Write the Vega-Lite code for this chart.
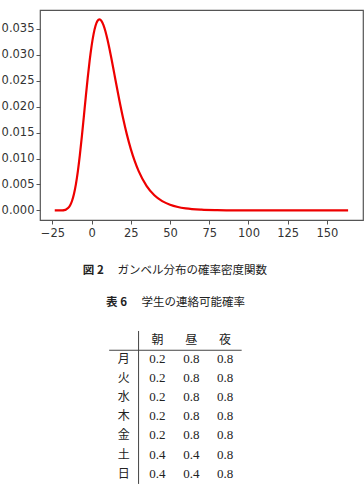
{
  "$schema": "https://vega.github.io/schema/vega-lite/v6.json",
  "padding": {"top": 9, "left": 0, "right": 0, "bottom": 0},
  "spacing": 0,
  "config": {"view": {"stroke": null}, "font": "DejaVu Sans"},
  "vconcat": [
    {
      "width": 323,
      "height": 210,
      "view": {"stroke": "#555", "strokeWidth": 1.2},
      "data": {"values": [
        {"x": -23.5, "y": 0.0}, {"x": -22.5, "y": 0.0000003}, {"x": -20, "y": 0.0000063},
        {"x": -18.75, "y": 0.000023}, {"x": -17.5, "y": 0.000072}, {"x": -16.25, "y": 0.000193},
        {"x": -15, "y": 0.000457}, {"x": -13.75, "y": 0.00096}, {"x": -12.5, "y": 0.001822},
        {"x": -11.25, "y": 0.00316}, {"x": -10, "y": 0.00507}, {"x": -8.75, "y": 0.00758},
        {"x": -7.5, "y": 0.01064}, {"x": -6.25, "y": 0.01415}, {"x": -5, "y": 0.01794},
        {"x": -3.75, "y": 0.02179}, {"x": -2.5, "y": 0.02549}, {"x": -1.25, "y": 0.02885},
        {"x": 0, "y": 0.0317}, {"x": 1.25, "y": 0.03396}, {"x": 2.5, "y": 0.03556},
        {"x": 3.75, "y": 0.03649}, {"x": 5, "y": 0.036788}, {"x": 6.25, "y": 0.03651},
        {"x": 7.5, "y": 0.03574}, {"x": 8.75, "y": 0.03457}, {"x": 10, "y": 0.03307},
        {"x": 11.25, "y": 0.03134}, {"x": 12.5, "y": 0.02945}, {"x": 13.75, "y": 0.02748},
        {"x": 15, "y": 0.02546}, {"x": 17.5, "y": 0.02151}, {"x": 20, "y": 0.01785},
        {"x": 22.5, "y": 0.0146}, {"x": 25, "y": 0.01182}, {"x": 27.5, "y": 0.00949},
        {"x": 30, "y": 0.00756}, {"x": 35, "y": 0.00474}, {"x": 40, "y": 0.00293},
        {"x": 45, "y": 0.0018}, {"x": 50, "y": 0.0011}, {"x": 55, "y": 0.000669},
        {"x": 60, "y": 0.000407}, {"x": 70, "y": 0.00015}, {"x": 80, "y": 0.0000553},
        {"x": 90, "y": 0.0000203}, {"x": 100, "y": 0.0000075}, {"x": 120, "y": 0.000001},
        {"x": 140, "y": 0.00000014}, {"x": 163.5, "y": 0.0}
      ]},
      "mark": {"type": "line", "color": "#ee0000", "strokeWidth": 2.2, "interpolate": "monotone"},
      "encoding": {
        "x": {
          "field": "x", "type": "quantitative",
          "scale": {"domain": [-32.9, 173], "nice": false, "zero": false},
          "axis": {
            "values": [-25, 0, 25, 50, 75, 100, 125, 150], "title": null, "grid": false,
            "domain": false, "tickColor": "#555", "tickSize": 4, "tickWidth": 1,
            "labelFontSize": 11.5, "labelColor": "#333", "labelPadding": 3,
            "minExtent": 25, "maxExtent": 25
          }
        },
        "y": {
          "field": "y", "type": "quantitative",
          "scale": {"domain": [-0.00184, 0.0386], "nice": false, "zero": false},
          "axis": {
            "values": [0, 0.005, 0.01, 0.015, 0.02, 0.025, 0.03, 0.035], "format": ".3f",
            "title": null, "grid": false, "domain": false, "tickColor": "#555",
            "tickSize": 4, "tickWidth": 1, "labelFontSize": 11.5, "labelColor": "#333",
            "labelPadding": 2, "minExtent": 39, "maxExtent": 39
          }
        }
      }
    },
    {
      "width": 323,
      "height": 249,
      "layer": [
        {
          "data": {"values": [
            {"col": 0.44, "row": -0.47, "row2": 7.54},
            {"col": -0.43, "col2": 3.49, "row": 0.54, "row2": 0.54}
          ]},
          "mark": {"type": "rule", "color": "#444", "strokeWidth": 1},
          "encoding": {
            "x": {"field": "col", "type": "quantitative", "scale": {"domain": [-2.476, 7.08], "nice": false, "zero": false}, "axis": null},
            "x2": {"field": "col2"},
            "y": {"field": "row", "type": "quantitative", "scale": {"domain": [-4.92, 8.12], "nice": false, "zero": false, "reverse": true}, "axis": null},
            "y2": {"field": "row2"}
          }
        },
        {
          "data": {"values": [
            {"col": 1, "row": 0, "label": "朝"}, {"col": 2, "row": 0, "label": "昼"}, {"col": 3, "row": 0, "label": "夜"},
            {"col": 0, "row": 1, "label": "月"}, {"col": 0, "row": 2, "label": "火"}, {"col": 0, "row": 3, "label": "水"},
            {"col": 0, "row": 4, "label": "木"}, {"col": 0, "row": 5, "label": "金"}, {"col": 0, "row": 6, "label": "土"},
            {"col": 0, "row": 7, "label": "日"}
          ]},
          "mark": {"type": "text", "font": "Noto Sans CJK JP", "fontSize": 12, "color": "#222", "align": "center", "baseline": "middle"},
          "encoding": {
            "x": {"field": "col", "type": "quantitative"},
            "y": {"field": "row", "type": "quantitative"},
            "text": {"field": "label"}
          }
        },
        {
          "data": {"values": [
            {"col": 1, "row": 1, "p": 0.2}, {"col": 2, "row": 1, "p": 0.8}, {"col": 3, "row": 1, "p": 0.8},
            {"col": 1, "row": 2, "p": 0.2}, {"col": 2, "row": 2, "p": 0.8}, {"col": 3, "row": 2, "p": 0.8},
            {"col": 1, "row": 3, "p": 0.2}, {"col": 2, "row": 3, "p": 0.8}, {"col": 3, "row": 3, "p": 0.8},
            {"col": 1, "row": 4, "p": 0.2}, {"col": 2, "row": 4, "p": 0.8}, {"col": 3, "row": 4, "p": 0.8},
            {"col": 1, "row": 5, "p": 0.2}, {"col": 2, "row": 5, "p": 0.8}, {"col": 3, "row": 5, "p": 0.8},
            {"col": 1, "row": 6, "p": 0.4}, {"col": 2, "row": 6, "p": 0.4}, {"col": 3, "row": 6, "p": 0.8},
            {"col": 1, "row": 7, "p": 0.4}, {"col": 2, "row": 7, "p": 0.4}, {"col": 3, "row": 7, "p": 0.8}
          ]},
          "mark": {"type": "text", "font": "Liberation Serif", "fontSize": 13, "color": "#222", "align": "center", "baseline": "middle"},
          "encoding": {
            "x": {"field": "col", "type": "quantitative"},
            "y": {"field": "row", "type": "quantitative"},
            "text": {"field": "p", "type": "quantitative", "format": ".1f"}
          }
        },
        {
          "data": {"values": [
            {"col": -1.21, "row": -3.61, "label": "図 2"},
            {"col": -0.52, "row": -1.95, "label": "表 6"}
          ]},
          "mark": {"type": "text", "font": "Noto Sans CJK JP", "fontSize": 11.5, "fontWeight": "bold", "color": "#222", "align": "left", "baseline": "middle"},
          "encoding": {
            "x": {"field": "col", "type": "quantitative"},
            "y": {"field": "row", "type": "quantitative"},
            "text": {"field": "label"}
          }
        },
        {
          "data": {"values": [
            {"col": -0.18, "row": -3.61, "label": "ガンベル分布の確率密度関数"},
            {"col": 0.53, "row": -1.95, "label": "学生の連絡可能確率"}
          ]},
          "mark": {"type": "text", "font": "Noto Sans CJK JP", "fontSize": 11.5, "color": "#222", "align": "left", "baseline": "middle"},
          "encoding": {
            "x": {"field": "col", "type": "quantitative"},
            "y": {"field": "row", "type": "quantitative"},
            "text": {"field": "label"}
          }
        }
      ]
    }
  ]
}
